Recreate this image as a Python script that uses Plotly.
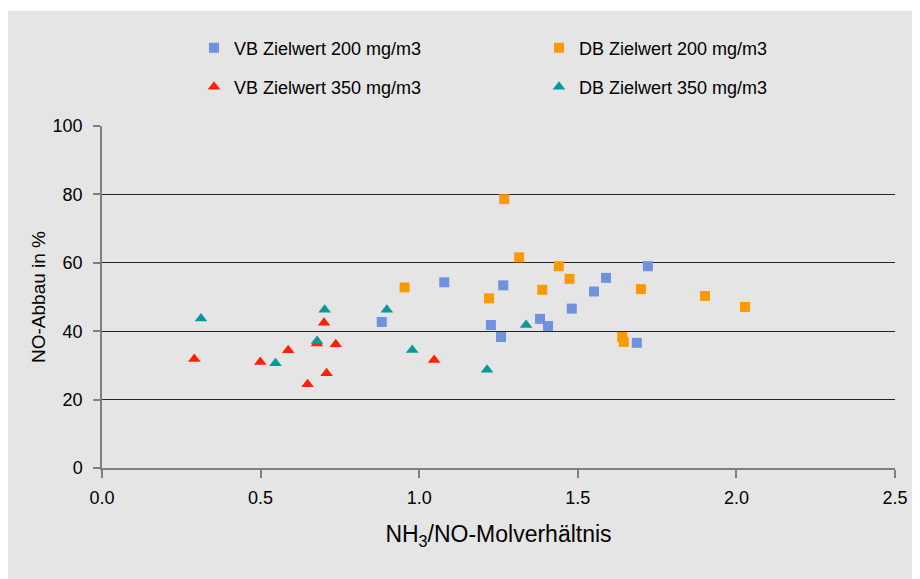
import plotly.graph_objects as go

# VB Zielwert 200 mg/m3 (blue squares)
vb200_x = [0.882, 1.079, 1.226, 1.258, 1.265, 1.381, 1.406, 1.481, 1.551, 1.589, 1.686, 1.721]
vb200_y = [42.7, 54.3, 41.8, 38.3, 53.4, 43.6, 41.5, 46.6, 51.6, 55.6, 36.6, 59.0]

# DB Zielwert 200 mg/m3 (orange squares)
db200_x = [0.954, 1.220, 1.268, 1.315, 1.388, 1.440, 1.474, 1.640, 1.645, 1.699, 1.901, 2.027]
db200_y = [52.8, 49.6, 78.6, 61.6, 52.1, 59.0, 55.3, 38.3, 36.9, 52.3, 50.3, 47.1]

# VB Zielwert 350 mg/m3 (red triangles)
vb350_x = [0.291, 0.499, 0.587, 0.648, 0.678, 0.700, 0.708, 0.737, 1.047]
vb350_y = [31.9, 31.0, 34.4, 24.5, 36.4, 42.5, 27.7, 36.2, 31.6]

# DB Zielwert 350 mg/m3 (teal triangles)
db350_x = [0.312, 0.547, 0.678, 0.702, 0.898, 0.978, 1.214, 1.337]
db350_y = [43.7, 30.6, 37.1, 46.3, 46.3, 34.5, 28.7, 41.8]

x_ticks = [0.0, 0.5, 1.0, 1.5, 2.0, 2.5]
y_ticks = [0, 20, 40, 60, 80, 100]

FONT = "Liberation Sans, Arial, sans-serif"
# page has an 8px body margin, so the figure is 8px smaller than the window
OFF = 8
W, H = 920 - OFF, 579 - OFF
ML, MR, MT, MB = 102 - OFF, 25, 126 - OFF, 111
PW = W - ML - MR
PH = H - MT - MB

def px_to_paper_x(p):
    return (p - ML) / PW

def px_to_paper_y(p):
    return (H - MB - p) / PH

fig = go.Figure()

fig.add_trace(go.Scatter(x=vb200_x, y=vb200_y, mode="markers", name="VB Zielwert 200 mg/m3",
                         marker=dict(symbol="square", size=10, color="#7191df"), legend="legend"))
fig.add_trace(go.Scatter(x=db200_x, y=db200_y, mode="markers", name="DB Zielwert 200 mg/m3",
                         marker=dict(symbol="square", size=10, color="#ff9900"), legend="legend"))
fig.add_trace(go.Scatter(x=vb350_x, y=vb350_y, mode="markers", name="VB Zielwert 350 mg/m3",
                         marker=dict(symbol="triangle-up", size=11, color="#ff2200"), legend="legend2"))
fig.add_trace(go.Scatter(x=db350_x, y=db350_y, mode="markers", name="DB Zielwert 350 mg/m3",
                         marker=dict(symbol="triangle-up", size=11, color="#009a9a"), legend="legend2"))

legend_common = dict(orientation="h", xanchor="left", yanchor="middle",
                     bgcolor="rgba(0,0,0,0)", font=dict(family=FONT, size=18, color="#000000"),
                     entrywidth=300, entrywidthmode="pixels", itemclick=False, itemdoubleclick=False)

fig.update_layout(
    width=W, height=H,
    margin=dict(l=ML, r=MR, t=MT, b=MB, autoexpand=False),
    paper_bgcolor="#ffffff",
    plot_bgcolor="rgba(0,0,0,0)",
    font=dict(family=FONT, size=17, color="#000000"),
    showlegend=True,
    legend=dict(x=px_to_paper_x(186), y=px_to_paper_y(48 - OFF), **legend_common),
    legend2=dict(x=px_to_paper_x(186), y=px_to_paper_y(87 - OFF), **legend_common),
    xaxis=dict(
        range=[0, 2.5], tickvals=x_ticks, ticktext=[f"{v:.1f}" for v in x_ticks],
        showgrid=False, zeroline=False, showline=True, linecolor="#7f7f7f", linewidth=1.5,
        ticks="outside", ticklen=8, tickcolor="#7f7f7f", tickwidth=1.5,
        ticklabelstandoff=5,
        tickfont=dict(family=FONT, size=18), fixedrange=True,
        title=dict(text="NH<sub>3</sub>/NO-Molverhältnis", font=dict(family=FONT, size=23), standoff=19),
    ),
    yaxis=dict(
        range=[0, 100], tickvals=y_ticks,
        showgrid=True, gridcolor="#262626", gridwidth=1,
        zeroline=False, showline=True, linecolor="#7f7f7f", linewidth=1.5,
        ticks="outside", ticklen=7, tickcolor="#7f7f7f", tickwidth=1.5,
        ticklabelstandoff=7,
        tickfont=dict(family=FONT, size=18), fixedrange=True,
        title=dict(text="NO-Abbau in %", font=dict(family=FONT, size=19), standoff=2),
    ),
    shapes=[dict(type="rect", xref="paper", yref="paper", layer="below",
                 x0=px_to_paper_x(6 - OFF), x1=px_to_paper_x(W + 2),
                 y0=px_to_paper_y(H + 2), y1=px_to_paper_y(11 - OFF),
                 fillcolor="#e5e5e5", line=dict(width=0))],
)

fig.write_html("out.html")
